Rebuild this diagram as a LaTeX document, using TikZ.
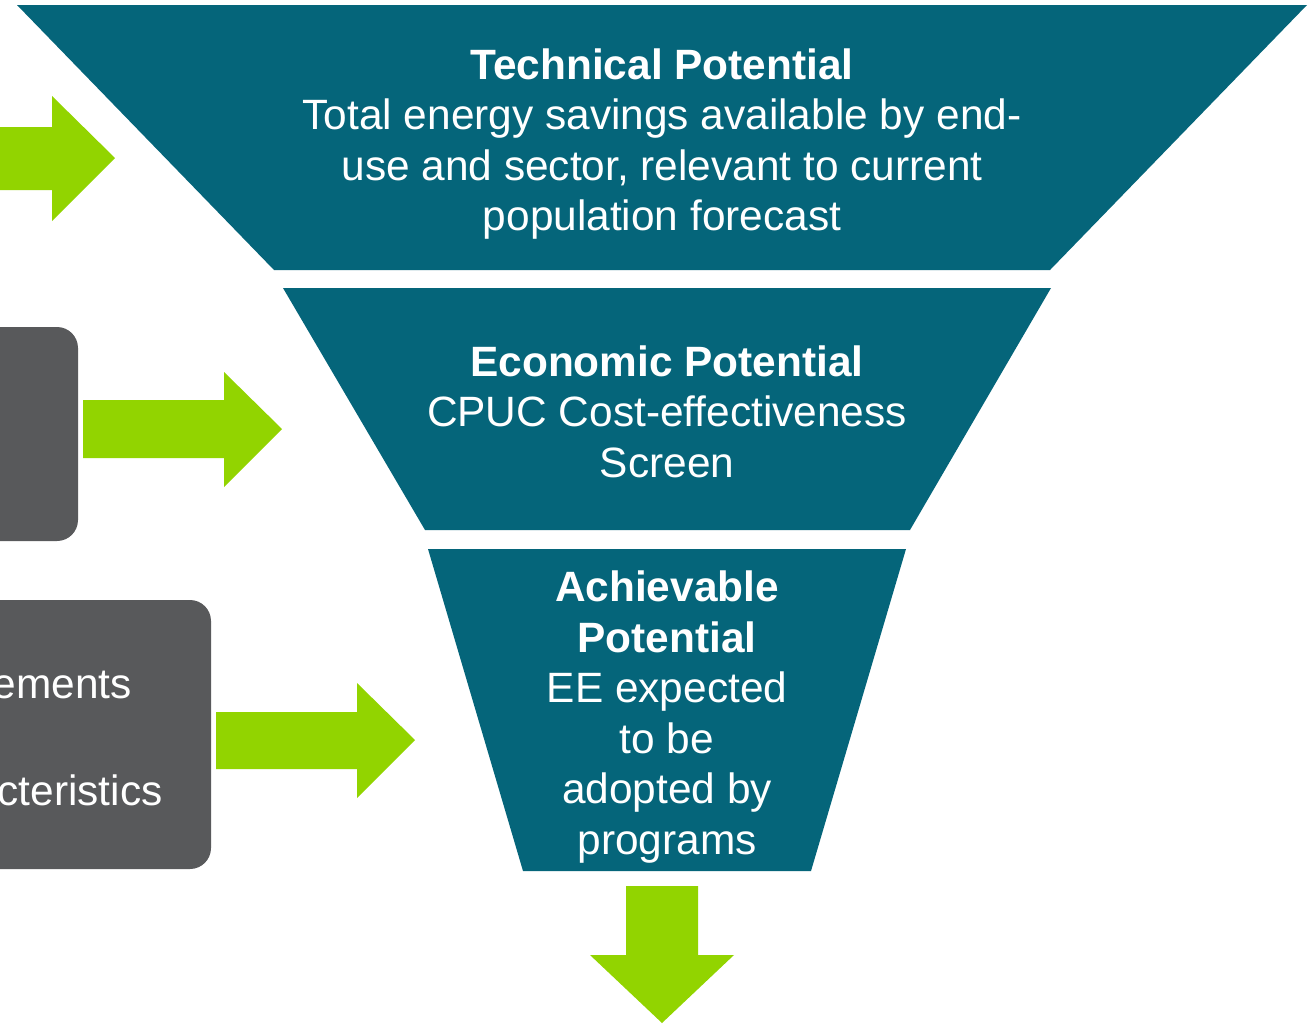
\documentclass[tikz,border=0pt]{standalone}
\usepackage{fontspec}
\setmainfont{Liberation Sans}
\definecolor{funnelteal}{HTML}{05657A}
\definecolor{arrowgreen}{HTML}{92D400}
\definecolor{boxgray}{HTML}{58595B}
\begin{document}
\begin{tikzpicture}[x=0.5pt,y=-0.5pt,
  funnel/.style={fill=funnelteal},
  blockarrow/.style={fill=arrowgreen},
  inbox/.style={fill=boxgray, rounded corners=10.5pt},
  ftext/.style={text=white, align=center, font=\fontsize{21.2}{25.25}\selectfont, inner sep=0pt}]
\useasboundingbox (0,0) rectangle (1312,1023);
\fill[white] (0,0) rectangle (1312,1023);
% funnel stages
\fill[funnel] (17,5) -- (1307,5) -- (1050,270) -- (274,270) -- cycle;
\fill[funnel] (283,288) -- (1051,288) -- (910,530) -- (425,530) -- cycle;
\fill[funnel] (428,549) -- (906,549) -- (811,871) -- (523,871) -- cycle;
% input boxes
\fill[inbox] (-40,327) rectangle (78,541);
\fill[inbox] (-40,600) rectangle (211,869);
% arrows
\fill[blockarrow] (-5,127) -- (52,127) -- (52,96) -- (115,158) -- (52,221) -- (52,190) -- (-5,190) -- cycle;
\fill[blockarrow] (83,400) -- (224,400) -- (224,372) -- (282,429) -- (224,487) -- (224,458) -- (83,458) -- cycle;
\fill[blockarrow] (216,712) -- (357,712) -- (357,683) -- (415,740) -- (357,798) -- (357,769) -- (216,769) -- cycle;
\fill[blockarrow] (626,886) -- (698,886) -- (698,955) -- (734,955) -- (662,1023) -- (590,955) -- (626,955) -- cycle;
% texts (anchor base = baseline of last line)
\node[ftext, anchor=base] (tech) at (662,230.5) {\textbf{Technical Potential}\\Total energy savings available by end-\\use and sector, relevant to current\\population forecast};
\node[ftext, anchor=base] (econ) at (667,477) {\textbf{Economic Potential}\\CPUC Cost-effectiveness\\Screen};
\node[ftext, anchor=base] (achv) at (667,854) {\textbf{Achievable}\\\textbf{Potential}\\EE expected\\to be\\adopted by\\programs};
\node[ftext, anchor=base east] (meas) at (132,698) {ements};
\node[ftext, anchor=base east] (char) at (163,805) {cteristics};
\end{tikzpicture}
\end{document}
